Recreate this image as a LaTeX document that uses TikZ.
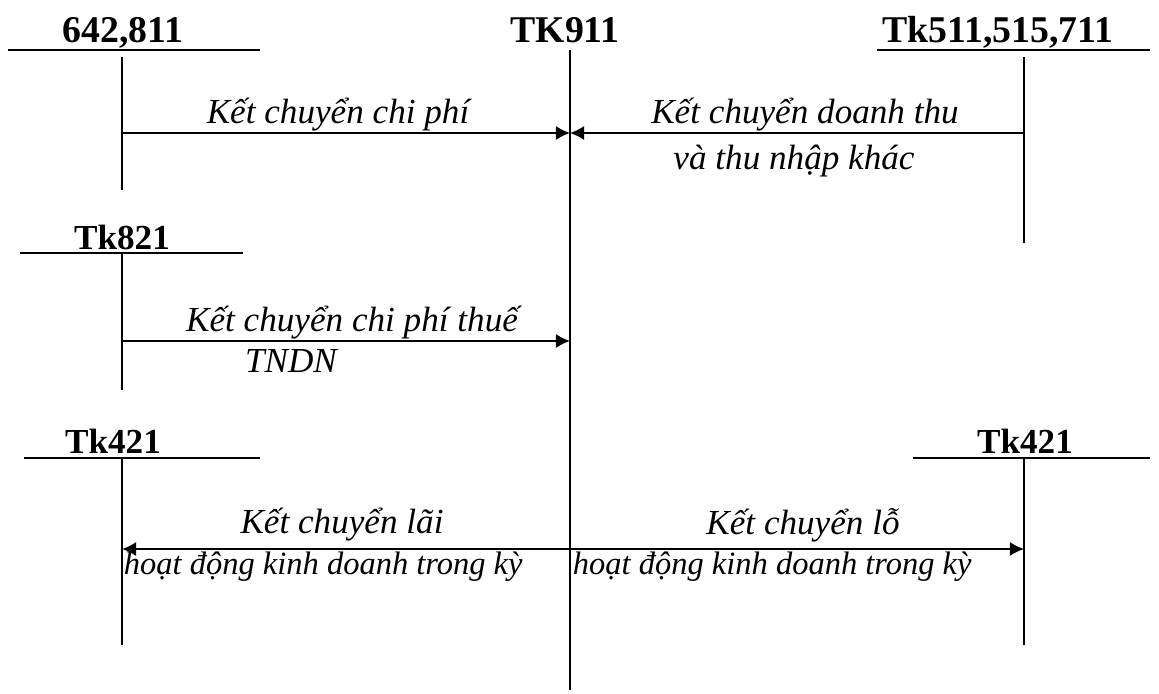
\documentclass[tikz,border=0pt]{standalone}
\usepackage{fontspec}
\setmainfont{Liberation Serif}
\usepackage{xcolor}
\usetikzlibrary{arrows.meta}

\begin{document}
\begin{tikzpicture}[x=0.02cm,y=-0.02cm, line width=1pt, >={Latex[length=8pt,width=8pt]}]
	\useasboundingbox (0,0) rectangle (1159,693);
	\tikzstyle{every node}=[font=\fontsize{21.5}{24}\selectfont\bfseries, inner sep=0pt, anchor=base]
	% account titles
	\draw (123,42) node (t642) {642,811};
	\draw (565,42) node (t911) {TK911};
	\draw (998,42) node (t511) {Tk511,515,711};
	\tikzstyle{every node}=[font=\fontsize{20}{24}\selectfont\bfseries, inner sep=0pt, anchor=base]
	\draw (122,249) node (t821) {Tk821};
	\draw (113,453) node (t421a) {Tk421};
	\draw (1025,453) node (t421b) {Tk421};
	% T accounts
	\draw (8,50) -- (260,50);
	\draw (122,57) -- (122,190);
	\draw (570,50) -- (570,690);
	\draw (877,50) -- (1150,50);
	\draw (1024,57) -- (1024,243);
	\draw (20,253) -- (243,253);
	\draw (122,253) -- (122,390);
	\draw (24,458) -- (260,458);
	\draw (122,458) -- (122,645);
	\draw (913,458) -- (1150,458);
	\draw (1024,458) -- (1024,645);
	% arrow ends
	\coordinate (a642) at (122,133);
	\coordinate (a511) at (1024,133);
	\coordinate (a911) at (570,133);
	\coordinate (a821) at (122,341);
	\coordinate (b911) at (570,341);
	\coordinate (c911) at (570,549);
	\coordinate (a421) at (122,549);
	\coordinate (b421) at (1024,549);
	\draw [->] (a642) -- (a911);
	\draw [->] (a511) -- (a911);
	\draw [->] (a821) -- (b911);
	\draw [->] (c911) -- (a421);
	\draw [->] (c911) -- (b421);
	% labels
	\tikzstyle{every node}=[font=\fontsize{20}{24}\selectfont\itshape, inner sep=0pt]
	\draw (338,115) node (l1) {Kết chuyển chi phí};
	\draw (805,115) node (l2) {Kết chuyển doanh thu};
	\draw (794,161) node (l3) {và thu nhập khác};
	\draw (352,323) node (l4) {Kết chuyển chi phí thuế};
	\draw (291,361) node (l5) {TNDN};
	\draw (342,525) node (l6) {Kết chuyển lãi};
	\draw (803,525) node (l8) {Kết chuyển lỗ};
	\tikzstyle{every node}=[font=\fontsize{18.5}{22}\selectfont\itshape, inner sep=0pt, anchor=west]
	\draw (123,567) node (l7) {hoạt động kinh doanh trong kỳ};
	\draw (572,567) node (l9) {hoạt động kinh doanh trong kỳ};
\end{tikzpicture}
\end{document}
